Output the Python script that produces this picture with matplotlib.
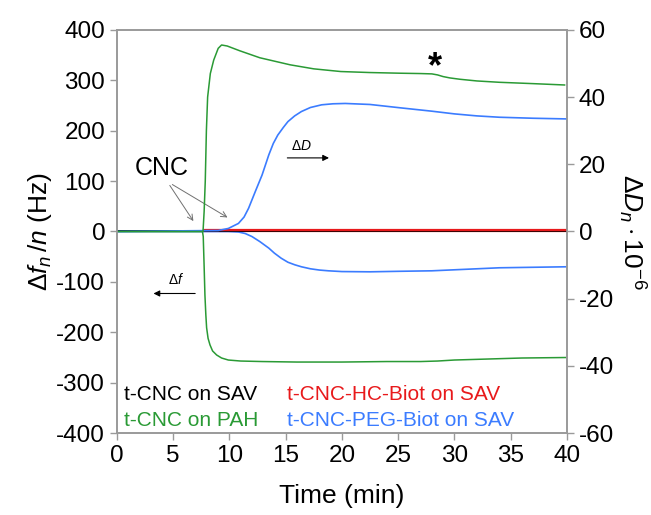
import matplotlib
matplotlib.use("Agg")
import matplotlib.pyplot as plt

plt.rcParams['font.family'] = ['Liberation Sans', 'DejaVu Sans']
plt.rcParams['mathtext.fontset'] = 'custom'
plt.rcParams['mathtext.rm'] = 'Liberation Sans'
plt.rcParams['mathtext.it'] = 'Liberation Sans:italic'
plt.rcParams['axes.unicode_minus'] = False

# t-CNC on PAH (green)
pah_f_t = [0, 7.6, 7.67, 7.75, 7.82, 7.9, 7.97, 8.1, 8.27, 8.5, 8.86, 9.3, 9.9, 11, 12.9, 16, 20, 24, 27, 28.5, 30, 33, 36, 40]
pah_f = [0, 0, -10, -70, -126, -165, -191, -212, -225, -237, -245, -251, -255, -257, -258, -259, -259, -258, -258, -257, -255, -253, -251, -250]
pah_d_t = [0, 7.65, 7.75, 7.85, 7.95, 8.06, 8.3, 8.6, 9.0, 9.3, 9.8, 10.9, 12.7, 15.4, 17.5, 19.9, 22.5, 25.2, 27, 28.0, 28.5, 29.0, 29.6, 30.5, 32, 34, 37, 39.8]
pah_d = [0, 0, 6, 15, 30, 40, 47, 51, 54.5, 55.5, 55.2, 53.8, 51.7, 49.6, 48.4, 47.6, 47.3, 47.1, 47.0, 46.9, 46.6, 46.1, 45.7, 45.3, 44.8, 44.4, 44.0, 43.6]

# t-CNC-PEG-Biot on SAV (blue)
peg_f_t = [0, 9.0, 9.9, 10.8, 11.4, 12.0, 12.7, 13.5, 14.0, 14.6, 15.2, 15.8, 16.4, 17.2, 18.0, 18.8, 20.0, 22.5, 25, 28, 31, 34, 37, 40]
peg_f = [0, 0, 0, -1, -4, -10, -20, -33, -43, -53, -61, -66, -70, -74, -76.5, -78, -79.5, -80, -79, -78, -75, -72, -71, -70]
peg_d_t = [0, 9.0, 9.9, 10.8, 11.3, 11.7, 12.3, 12.9, 13.5, 13.9, 14.3, 14.8, 15.2, 15.8, 16.4, 17.2, 18.2, 19.2, 20.3, 22.5, 25.2, 28, 30, 32, 34, 37, 40]
peg_d = [0, 0.3, 0.9, 2.4, 4.3, 6.9, 11.9, 16.8, 22.8, 26.2, 28.7, 31.0, 32.7, 34.4, 35.7, 36.9, 37.7, 38.0, 38.1, 37.8, 36.8, 35.8, 35.0, 34.4, 34.0, 33.7, 33.5]

# t-CNC-HC-Biot on SAV (red) and t-CNC on SAV (black)
hc_t = [7.7, 40]
hc_f = [0, 0]
hc_d = [0.45, 0.45]
sav_t = [0, 40]
sav_f = [0, 0]
sav_d = [0, 0]

green = '#2a9a35'
blue = '#3b7cff'
red = '#e8191b'
gray = '#9a9a9a'

fig = plt.figure(figsize=(6.51, 5.15), dpi=100)
ax = fig.add_axes([0.1797, 0.159, 0.691, 0.783])
ax2 = ax.twinx()

ax.plot(sav_t, sav_f, color='black', lw=1.2)
ax.plot(hc_t, hc_f, color=red, lw=1.6)
ax.plot(peg_f_t, peg_f, color=blue, lw=1.2)
ax.plot(pah_f_t, pah_f, color=green, lw=1.1)
ax2.plot(sav_t, sav_d, color='black', lw=1.2)
ax2.plot(hc_t, hc_d, color=red, lw=1.6)
ax2.plot(peg_d_t, peg_d, color=blue, lw=1.2)
ax2.plot(pah_d_t, pah_d, color=green, lw=1.1)

ax.set_xlim(0, 40)
ax.set_ylim(-400, 400)
ax2.set_ylim(-60, 60)
ax.set_xticks(range(0, 41, 5))
ax.set_yticks(range(-400, 401, 100))
ax2.set_yticks(range(-60, 61, 20))

for a in (ax, ax2):
    for s in a.spines.values():
        s.set_color(gray)
        s.set_linewidth(1.2)
    a.tick_params(direction='out', length=5, width=1, color=gray, labelsize=17.5)
ax.tick_params(top=False)

ax.set_xlabel('Time (min)', fontsize=19, labelpad=12)
ax.set_ylabel(r'$\mathit{\Delta f_n}\,/\mathit{n}$ (Hz)', fontsize=19, labelpad=2)
ax2.set_ylabel(r'$\mathit{\Delta D_n}\cdot 10^{-6}$', fontsize=19, rotation=270, labelpad=24)

# annotations
ax.text(3.97, 126, 'CNC', fontsize=18, ha='center', va='center')
ax.annotate('', xy=(6.93, 16), xytext=(4.56, 96),
            arrowprops=dict(arrowstyle='->', color='#707070', lw=0.7))
ax.annotate('', xy=(10.04, 25), xytext=(4.71, 96),
            arrowprops=dict(arrowstyle='->', color='#707070', lw=0.7))
ax.annotate('', xy=(19.1, 146), xytext=(14.9, 146),
            arrowprops=dict(arrowstyle='-|>', color='black', lw=0.8, mutation_scale=9))
ax.text(16.4, 169, r'$\mathit{\Delta D}$', fontsize=10, ha='center', va='center')
ax.annotate('', xy=(3.0, -123), xytext=(7.2, -123),
            arrowprops=dict(arrowstyle='-|>', color='black', lw=0.8, mutation_scale=9))
ax.text(5.3, -96, r'$\mathit{\Delta f}$', fontsize=10, ha='center', va='center')
ax.text(28.3, 325, '*', fontsize=26, fontweight='bold', ha='center', va='center')

# legend as text
ax.text(0.62, -324, 't-CNC on SAV', color='black', fontsize=15, va='center')
ax.text(15.1, -324, 't-CNC-HC-Biot on SAV', color=red, fontsize=15, va='center')
ax.text(0.62, -374, 't-CNC on PAH', color=green, fontsize=15, va='center')
ax.text(15.1, -374, 't-CNC-PEG-Biot on SAV', color=blue, fontsize=15, va='center')

fig.savefig('out.png', dpi=100)
